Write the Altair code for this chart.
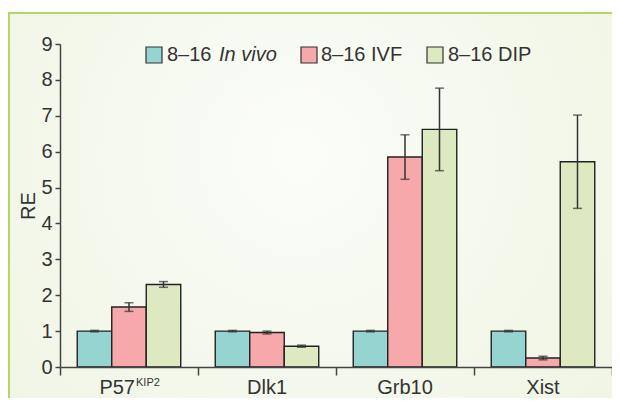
import altair as alt
import pandas as pd

genes = ["P57", "Dlk1", "Grb10", "Xist"]
gene_labels = ["P57", "Dlk1", "Grb10", "Xist"]
groups = ["8–16 In vivo", "8–16 IVF", "8–16 DIP"]
colors = ["#96d4d2", "#f6a8aa", "#dce9c1"]

invivo = [1.0, 1.0, 1.0, 1.0]
invivo_err = [0.02, 0.02, 0.02, 0.02]
ivf = [1.67, 0.96, 5.85, 0.25]
ivf_err = [0.12, 0.04, 0.62, 0.05]
dip = [2.30, 0.58, 6.62, 5.72]
dip_err = [0.08, 0.03, 1.15, 1.30]
y_ticks = [0, 1, 2, 3, 4, 5, 6, 7, 8, 9]

FONT = "Liberation Sans"
W, H = 552, 323
DARK = "#333333"

rows = []
for vals, errs, g in [(invivo, invivo_err, groups[0]), (ivf, ivf_err, groups[1]), (dip, dip_err, groups[2])]:
    for gene, v, e in zip(genes, vals, errs):
        rows.append({"gene": gene, "group": g, "value": v, "lo": v - e, "hi": v + e})
df = pd.DataFrame(rows)

xaxis = alt.Axis(title=None, labels=False, tickBand="extent", tickSize=8,
                 tickWidth=1.5, domainWidth=1.5, domainColor="#444", tickColor="#444",
                 zindex=1)
xscale = alt.Scale(paddingInner=0, paddingOuter=0)
xoff = alt.XOffset("group:N", sort=groups, scale=alt.Scale(paddingInner=0, paddingOuter=0.5))
yscale = alt.Scale(domain=[0, 9], nice=False, zero=True)
yaxis = alt.Axis(values=y_ticks, tickCount=len(y_ticks) + 2, grid=False, title="RE", tickSize=5,
                 tickWidth=1.5, domainWidth=1.5, domainColor="#444", tickColor="#444",
                 labelFontSize=20, titleFontSize=20, titleFontWeight="normal",
                 labelColor=DARK, titleColor=DARK, labelPadding=3, titlePadding=2,
                 labelFont=FONT, titleFont=FONT, zindex=1,
                 labelOverlap=False, labelFlush=False, labelBound=False)


def X():
    return alt.X("gene:N", sort=genes, scale=xscale, axis=xaxis)


def Y(field):
    return alt.Y(field, type="quantitative", scale=yscale, axis=yaxis)


frame = alt.Chart(pd.DataFrame({"a": [0]})).mark_rect(
    clip=False, stroke="#b3d862", strokeWidth=2,
    fill=alt.RadialGradient(gradient="radial", x1=0.45, y1=0.4, x2=0.45, y2=0.4, r1=0, r2=0.75,
                            stops=[alt.GradientStop(offset=0, color="#fbfdf8"),
                                   alt.GradientStop(offset=1, color="#edf3df")])
).encode(x=alt.value(-51), x2=alt.value(W + 40), y=alt.value(-31), y2=alt.value(H + 60))

bars = alt.Chart(df).mark_bar(stroke="#222222", strokeWidth=1.4).encode(
    x=X(), xOffset=xoff, y=Y("value"),
    color=alt.Color("group:N", sort=groups, scale=alt.Scale(domain=groups, range=colors), legend=None),
)

err = alt.Chart(df).mark_rule(color=DARK, strokeWidth=1.5).encode(
    x=X(), xOffset=xoff, y=Y("lo"), y2="hi:Q")
cap_lo = alt.Chart(df).mark_tick(color=DARK, size=9, thickness=1.5).encode(
    x=X(), xOffset=xoff, y=Y("lo"))
cap_hi = alt.Chart(df).mark_tick(color=DARK, size=9, thickness=1.5).encode(
    x=X(), xOffset=xoff, y=Y("hi"))

lab_df = pd.DataFrame({"gene": genes, "label": gene_labels})
labels_main = alt.Chart(lab_df[lab_df.gene != "P57"]).mark_text(
    font=FONT, fontSize=20, color=DARK, baseline="alphabetic", align="center").encode(
    x=X(), y=alt.value(H + 27), text="label:N")
labels_p57 = alt.Chart(lab_df[lab_df.gene == "P57"]).mark_text(
    font=FONT, fontSize=20, color=DARK, baseline="alphabetic", align="right", dx=6).encode(
    x=X(), y=alt.value(H + 27), text="label:N")
labels_sup = alt.Chart(pd.DataFrame({"gene": ["P57"], "label": ["KIP2"]})).mark_text(
    font=FONT, fontSize=11, color=DARK, baseline="alphabetic", align="left", dx=7).encode(
    x=X(), y=alt.value(H + 19), text="label:N")

# manual legend
leg = []
sq_x = [86, 241, 367]
for i, g in enumerate(groups):
    leg.append(alt.Chart(pd.DataFrame({"group": [g]})).mark_rect(
        stroke=DARK, strokeWidth=1.2, fill=colors[i], clip=False).encode(
        x=alt.value(sq_x[i]), x2=alt.value(sq_x[i] + 16), y=alt.value(3), y2=alt.value(19)))
leg_text = [("8–16", 107, "normal"), ("In vivo", 159, "italic"),
            ("8–16 IVF", 261, "normal"), ("8–16 DIP", 388, "normal")]
for t, xx, st in leg_text:
    leg.append(alt.Chart(pd.DataFrame({"t": [t]})).mark_text(
        font=FONT, fontSize=20, color=DARK, baseline="alphabetic", align="left",
        fontStyle=st, clip=False).encode(x=alt.value(xx), y=alt.value(17), text="t:N"))

chart = alt.layer(frame, bars, err, cap_lo, cap_hi, labels_main, labels_p57, labels_sup, *leg).properties(
    width=W, height=H,
    autosize=alt.AutoSizeParams(type="none"),
    padding={"left": 52, "top": 36, "right": 0, "bottom": 31},
).configure_view(stroke=None).configure(font=FONT)

chart.save("out.html", embed_options={"renderer": "svg", "actions": False})
